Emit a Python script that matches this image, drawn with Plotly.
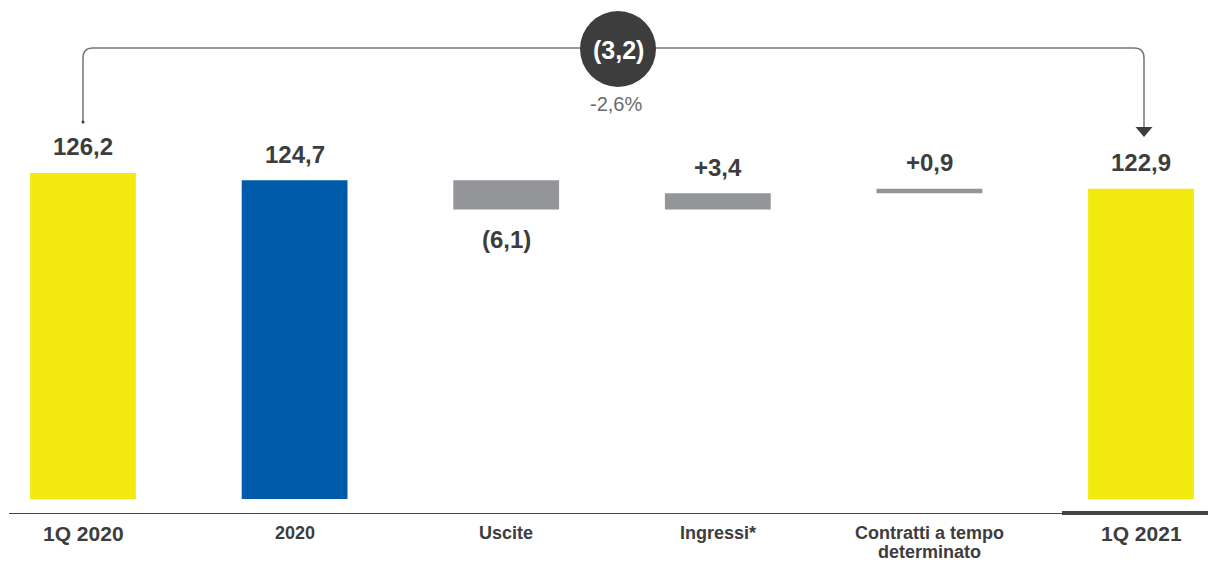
import plotly.graph_objects as go

# Organico (migliaia di FTE): ponte 1Q 2020 -> 1Q 2021
categories = ["1Q 2020", "2020", "Uscite", "Ingressi*", "Contratti a tempo<br>determinato", "1Q 2021"]
values = [126.2, 124.7, -6.1, 3.4, 0.9, 122.9]
kinds = ["total", "total", "delta", "delta", "delta", "total"]
value_labels = ["126,2", "124,7", "(6,1)", "+3,4", "+0,9", "122,9"]
change_label = "(3,2)"
change_pct_label = "-2,6%"

YELLOW = "#F2EA0E"
BLUE = "#005BAA"
GREY = "#939598"
DARK = "#3d3d3d"
FONT = "Liberation Sans"

W, H = 1208, 563
PLOT_BOTTOM = 499          # pixel row of plot-area bottom
PX_PER_X = 211.6           # pixels per category step
X0 = -83 / PX_PER_X        # left edge of the x range
PX_PER_Y = 4.8             # pixels per unit
Y_TOP = 162.24
Y_BOTTOM = Y_TOP - PLOT_BOTTOM / PX_PER_Y

# running totals for the floating bars
bases, tops, colors = [], [], []
running = 0.0
for i, (v, k) in enumerate(zip(values, kinds)):
    if k == "total":
        bases.append(0.0)
        tops.append(v)
        running = v
        colors.append(BLUE if categories[i] == "2020" else YELLOW)
    else:
        bases.append(running)
        running = round(running + v, 2)
        tops.append(running)
        colors.append(GREY)

xs = list(range(len(categories)))
fig = go.Figure(go.Bar(
    x=xs, y=values, base=bases, width=0.5,
    marker=dict(color=colors, line=dict(width=0)),
    hoverinfo="skip",
))


def px_x(p):
    return p / W


def px_y(p):
    return (PLOT_BOTTOM - p) / PLOT_BOTTOM


annotations = []
for i in xs:
    hi = max(bases[i], tops[i]) if kinds[i] == "delta" else tops[i]
    lo = min(bases[i], tops[i])
    if values[i] < 0:
        annotations.append(dict(x=i, y=lo, yshift=-30, text=f"<b>{value_labels[i]}</b>",
                                showarrow=False, xanchor="center", yanchor="middle",
                                font=dict(family=FONT, size=24, color=DARK)))
    else:
        annotations.append(dict(x=i, y=hi, yshift=26, text=f"<b>{value_labels[i]}</b>",
                                showarrow=False, xanchor="center", yanchor="middle",
                                font=dict(family=FONT, size=24, color=DARK)))

# category labels under the axis line (one annotation per line, tight leading)
for i, c in enumerate(categories):
    big = c.startswith("1Q")
    for j, part in enumerate(c.split("<br>")):
        annotations.append(dict(x=i, xref="x", y=px_y(533 + 19 * j), yref="paper",
                                xanchor="center", yanchor="middle",
                                text=f"<b>{part}</b>", showarrow=False,
                                font=dict(family=FONT, size=21 if big else 18, color=DARK)))

# change bubble
annotations.append(dict(x=px_x(618), y=px_y(50), xref="paper", yref="paper",
                        xanchor="center", yanchor="middle",
                        text=f"<b>{change_label}</b>", showarrow=False,
                        font=dict(family=FONT, size=25, color="white")))
annotations.append(dict(x=px_x(616), y=px_y(104), xref="paper", yref="paper",
                        xanchor="center", yanchor="middle",
                        text=change_pct_label, showarrow=False,
                        font=dict(family=FONT, size=20, color="#6b6b6b")))

LINE = "#777777"
r = 10
xl, xr, yh = 83, 1144, 48
bracket = (f"M {px_x(xl)},{px_y(122)} L {px_x(xl)},{px_y(yh + r)} "
           f"Q {px_x(xl)},{px_y(yh)} {px_x(xl + r)},{px_y(yh)} "
           f"L {px_x(xr - r)},{px_y(yh)} "
           f"Q {px_x(xr)},{px_y(yh)} {px_x(xr)},{px_y(yh + r)} "
           f"L {px_x(xr)},{px_y(128)}")
arrow = (f"M {px_x(xr - 8.5)},{px_y(127)} L {px_x(xr + 8.5)},{px_y(127)} "
         f"L {px_x(xr)},{px_y(137)} Z")

shapes = [
    dict(type="path", xref="paper", yref="paper", path=bracket,
         line=dict(color=LINE, width=1.5)),
    dict(type="path", xref="paper", yref="paper", path=arrow,
         fillcolor=DARK, line=dict(color=DARK, width=0)),
    dict(type="circle", xref="paper", yref="paper",
         x0=px_x(81.5), x1=px_x(84.5), y0=px_y(120.5), y1=px_y(123.5),
         fillcolor=DARK, line=dict(width=0)),
    dict(type="circle", xref="paper", yref="paper",
         x0=px_x(580), x1=px_x(656), y0=px_y(11), y1=px_y(87),
         fillcolor=DARK, line=dict(width=0)),
    # axis line and highlight under the last period
    dict(type="line", xref="paper", yref="paper",
         x0=px_x(9), x1=px_x(1062), y0=px_y(513.5), y1=px_y(513.5),
         line=dict(color="#444444", width=1.2)),
    dict(type="line", xref="paper", yref="paper",
         x0=px_x(1062), x1=px_x(1208), y0=px_y(513), y1=px_y(513),
         line=dict(color="#444444", width=4)),
]

fig.update_layout(
    width=W, height=H,
    margin=dict(l=0, r=0, t=0, b=H - PLOT_BOTTOM),
    paper_bgcolor="white", plot_bgcolor="white",
    showlegend=False,
    xaxis=dict(range=[X0, X0 + W / PX_PER_X], visible=False, fixedrange=True),
    yaxis=dict(range=[Y_BOTTOM, Y_TOP], visible=False, fixedrange=True),
    annotations=annotations,
    shapes=shapes,
    font=dict(family=FONT),
)

fig.write_html("out.html")
